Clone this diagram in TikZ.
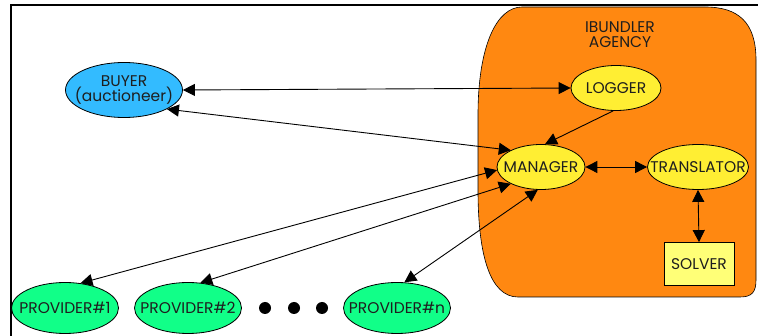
\documentclass[tikz,border=0pt]{standalone}
\usepackage{fontspec}
\setmainfont{Poppins}
\usetikzlibrary{shapes.geometric,arrows.meta}
\definecolor{agencyorange}{RGB}{255,136,17}
\definecolor{buyerblue}{RGB}{51,187,255}
\definecolor{agentyellow}{RGB}{255,238,51}
\definecolor{solveryellow}{RGB}{255,255,119}
\definecolor{providergreen}{RGB}{17,255,136}
\definecolor{txt}{RGB}{30,30,30}
\newcommand\zwbox[1]{\makebox[0pt]{#1}}
\tikzset{
  lbl/.style={text=txt, font=\fontsize{15.5}{15}\selectfont, align=center},
  oval/.style={ellipse, draw=black, line width=0.8pt, inner sep=0pt, lbl},
  buyerstyle/.style={oval, fill=buyerblue, minimum width=117pt, minimum height=55pt},
  agentstyle/.style={oval, fill=agentyellow, minimum height=45pt},
  providerstyle/.style={oval, fill=providergreen, minimum width=107pt, minimum height=51pt},
  boxstyle/.style={rectangle, draw=black, line width=0.8pt, fill=solveryellow, lbl,
    minimum width=70pt, minimum height=43pt, inner sep=0pt},
  link/.style={line width=0.9pt, {Triangle[length=12pt,width=12pt]}-{Triangle[length=12pt,width=12pt]}},
  onelink/.style={line width=0.9pt, -{Triangle[length=12pt,width=12pt]}},
  dot/.style={circle, fill=black, minimum size=12pt, inner sep=0pt}
}
\begin{document}
\begin{tikzpicture}[x=1pt,y=-1pt]
\useasboundingbox (0,0) rectangle (758,336);
% frame
\draw[line width=2pt] (11,336) -- (11,5) -- (758,5);
% agency region
\fill[agencyorange, draw=black, line width=0.6pt]
  (522,7) -- (705,7) .. controls (738,7) and (756,22) .. (756,60)
  -- (756,280) .. controls (756,292) and (752,297) .. (740,297)
  -- (518,297) .. controls (490,297) and (478,255) .. (478,190)
  -- (478,115) .. controls (478,45) and (497,7) .. (522,7) -- cycle;
\node[lbl] (agencylabel) at (620,35) {IBUNDLER\\AGENCY};
% nodes
\node[buyerstyle] (buyer) at (124,90) {\zwbox{BUYER}\\\zwbox{(auctioneer)}};
\node[agentstyle, minimum width=90pt] (logger) at (616,88) {\zwbox{LOGGER}};
\node[agentstyle, minimum width=88pt] (manager) at (541,167) {\zwbox{MANAGER}};
\node[agentstyle, minimum width=101pt] (translator) at (698,167) {\zwbox{TRANSLATOR}};
\node[boxstyle] (solver) at (699,264) {SOLVER};
\node[providerstyle] (p1) at (65,308) {\zwbox{PROVIDER\#1}};
\node[providerstyle] (p2) at (188,308) {\zwbox{PROVIDER\#2}};
\node[providerstyle] (pn) at (397,308) {\zwbox{PROVIDER\#n}};
\node[dot] (d1) at (265,308) {};
\node[dot] (d2) at (294,308) {};
\node[dot] (d3) at (322,308) {};
% connectors
\draw[link] (buyer.east) -- (logger.west);
\draw[link] (buyer.-24) -- (manager.151);
\draw[onelink] (logger.-97) -- (manager.80);
\draw[link] (manager.east) -- (translator.west);
\draw[link] (translator.south) -- (solver.north);
\draw[link] (p1.58) -- (manager.184);
\draw[link] (p2.64) -- (manager.209);
\draw[link] (pn.74) -- (manager.262);
\end{tikzpicture}
\end{document}
